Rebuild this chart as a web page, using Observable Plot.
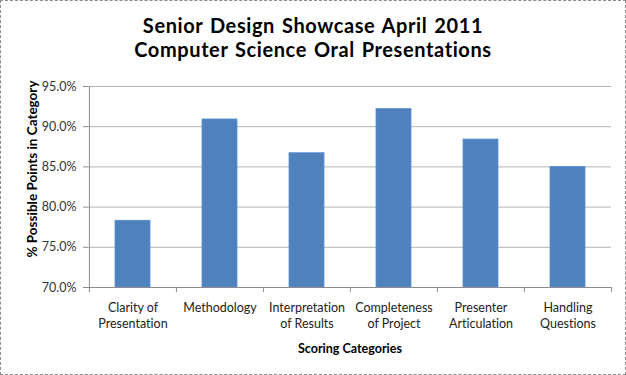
<!DOCTYPE html>
<html>
<head>
<meta charset="utf-8">
<script src="https://cdn.jsdelivr.net/npm/d3@7"></script>
<script src="https://cdn.jsdelivr.net/npm/@observablehq/plot@0.6"></script>
<style>
  html, body { margin: 0; padding: 0; background: #fff; }
  #wrap { position: relative; width: 626px; height: 375px; overflow: hidden; font-family: Lato, "Open Sans", sans-serif; font-variant-ligatures: none; }
  .title { position: absolute; left: 0; width: 626px; text-align: center; font-weight: bold; font-size: 20px; line-height: 24px; letter-spacing: 0.6px; word-spacing: 1.5px; color: #000; font-variant-ligatures: none; white-space: nowrap; }
  #t1 { top: 12.8px; }
  #t2 { top: 36.8px; }
  #border { position: absolute; left: 0; top: 0; width: 626px; height: 375px; box-sizing: border-box; border: 1px dashed #8a8a8a; pointer-events: none; }
  svg { display: block; font-variant-ligatures: none; }
</style>
</head>
<body>
<div id="wrap">
  <div id="chart"></div>
  <div class="title" id="t1">Senior Design Showcase April 2011</div>
  <div class="title" id="t2">Computer Science Oral Presentations</div>
  <div id="border"></div>
</div>
<script>
const categories = ["Clarity of Presentation", "Methodology", "Interpretation of Results", "Completeness of Project", "Presenter Articulation", "Handling Questions"];
const tickLabels = ["Clarity of\nPresentation", "Methodology", "Interpretation\nof Results", "Completeness\nof Project", "Presenter\nArticulation", "Handling\nQuestions"];
const values = [78.3, 90.9, 86.7, 92.2, 88.4, 85.0];
const yTicks = [70, 75, 80, 85, 90, 95];
const yLabel = "% Possible Points in Category";
const xLabel = "Scoring Categories";

const W = 626, H = 375, mL = 88, mR = 15, mT = 86, mB = 88;
const step = (W - mL - mR) / categories.length;
const data = categories.map((c, i) => ({category: c, value: values[i]}));
const labelOf = new Map(categories.map((c, i) => [c, tickLabels[i]]));

const chart = Plot.plot({
  width: W,
  height: H,
  marginLeft: mL,
  marginRight: mR,
  marginTop: mT,
  marginBottom: mB,
  style: {fontFamily: "Lato, 'Open Sans', sans-serif", fontSize: "12.5px", color: "#222", background: "#fff"},
  x: {domain: categories, paddingInner: 0.6, paddingOuter: 0.3},
  y: {domain: [70, 95]},
  marks: [
    Plot.gridY(yTicks, {stroke: "#b4b4b4", strokeOpacity: 1}),
    Plot.barY(data, {x: "category", y1: 70, y2: "value", fill: "#4F81BD", stroke: "#5b8fd2", strokeWidth: 0.8}),
    Plot.ruleY([70], {stroke: "#8c8c8c"}),
    Plot.ruleX([categories[0]], {x: d => d, stroke: "#8c8c8c", dx: -step / 2}),
    Plot.ruleX(categories, {x: d => d, y1: 70, y2: 70, insetBottom: -5, dx: -step / 2, stroke: "#8c8c8c"}),
    Plot.ruleX([categories[categories.length - 1]], {x: d => d, y1: 70, y2: 70, insetBottom: -5, dx: step / 2, stroke: "#8c8c8c"}),
    Plot.axisY(yTicks, {tickSize: 5, tickPadding: 7, stroke: "#8c8c8c", tickFormat: d => d.toFixed(1) + "%", label: null, fontSize: 12.5, fill: "#333"}),
    Plot.axisX({tickSize: 0, tickPadding: 13, tickFormat: d => labelOf.get(d), label: null, lineHeight: 1.28, fontSize: 12.5, fill: "#222"}),
    Plot.text([yLabel], {frameAnchor: "left", textAnchor: "middle", rotate: -90, dx: -56, dy: -18, fontWeight: "bold", fontSize: 13.5, fill: "#000", letterSpacing: "0.5px"}),
    Plot.text([xLabel], {frameAnchor: "bottom", dy: 65, fontWeight: "bold", fontSize: 12.5, fill: "#000"})
  ]
});
document.getElementById("chart").appendChild(chart);
</script>
</body>
</html>
